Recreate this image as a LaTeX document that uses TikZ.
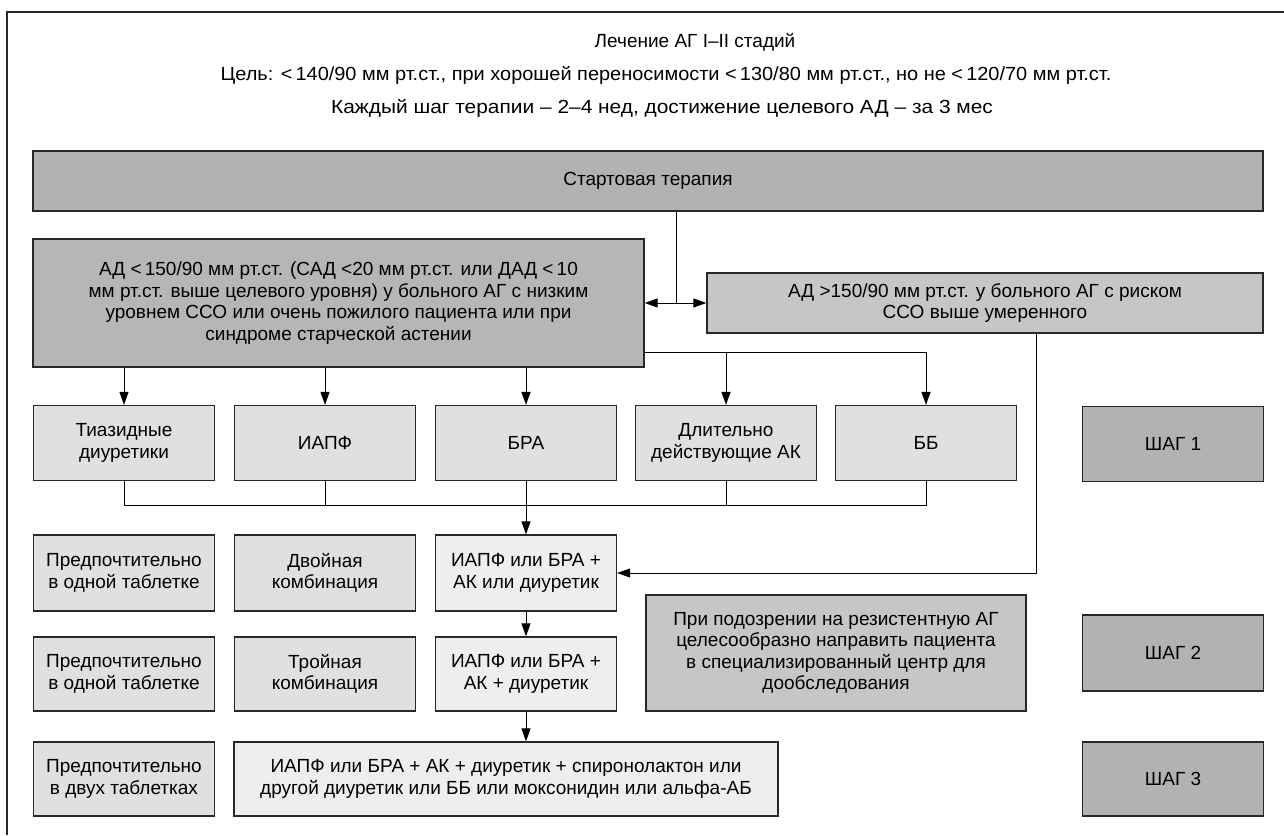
\documentclass[tikz,border=0pt]{standalone}
\usepackage{fontspec}
\setmainfont{Liberation Sans}
\newfontfamily\tfB[FakeStretch=1.05]{Liberation Sans}
\newfontfamily\tfC[FakeStretch=1.10]{Liberation Sans}
\usetikzlibrary{arrows.meta}
\definecolor{gA}{RGB}{178,178,178}
\definecolor{gB}{RGB}{182,182,182}
\definecolor{gC}{RGB}{198,198,198}
\definecolor{gD}{RGB}{224,224,224}
\definecolor{gE}{RGB}{238,238,238}
\definecolor{edge}{RGB}{40,40,40}
\tikzset{
  box/.style={draw=edge, line width=1.3pt, align=center, inner sep=2pt,
    font=\fontsize{19}{21.5}\selectfont},
  stdbox/.style={box, fill=gD, minimum width=181pt, minimum height=75pt},
  litbox/.style={box, fill=gE, minimum width=181pt, minimum height=75pt},
  stepbox/.style={box, fill=gA, minimum width=181pt, minimum height=76pt},
  conn/.style={line width=1pt, black},
  arr/.style={conn, -{Triangle[length=13pt,width=9pt]}},
  darr/.style={conn, {Triangle[length=13pt,width=9pt]}-{Triangle[length=13pt,width=9pt]}},
  title/.style={font=\fontsize{19}{21}\selectfont, inner sep=0pt},
  frame/.style={line width=1.4pt, edge}
}
\begin{document}
\begin{tikzpicture}[x=1pt,y=-1pt]
\useasboundingbox (0,0) rectangle (1284,835);
\draw[frame] (7,835) -- (7,12) -- (1284,12);

\node[title] (t1) at (695,42) {Лечение АГ I–II стадий};
\node[title] (t2) at (666,75) {\tfB Цель: <\,140/90 мм рт.ст., при хорошей переносимости <\,130/80 мм рт.ст., но не <\,120/70 мм рт.ст.};
\node[title] (t3) at (662,108) {\tfC Каждый шаг терапии – 2–4 нед, достижение целевого АД – за 3 мес};

\node[box, fill=gA, minimum width=1230pt, minimum height=60pt] (start) at (648,181) {Стартовая терапия};

\node[box, fill=gB, minimum width=611pt, minimum height=128pt] (left) at (338.5,303)
  {АД <\,150/90 мм рт.ст. (САД <20 мм рт.ст. или ДАД <\,10\\
   мм рт.ст. выше целевого уровня) у больного АГ с низким\\
   уровнем ССО или очень пожилого пациента или при\\
   синдроме старческой астении};
\node[box, fill=gC, minimum width=556pt, minimum height=60pt] (right) at (985,303)
  {АД >150/90 мм рт.ст. у больного АГ с риском\\ ССО выше умеренного};

\node[stdbox] (a1) at (124,443) {Тиазидные\\ диуретики};
\node[stdbox] (a2) at (325,443) {ИАПФ};
\node[stdbox] (a3) at (526,443) {БРА};
\node[stdbox] (a4) at (726,443) {Длительно\\ действующие АК};
\node[stdbox] (a5) at (926,443) {ББ};
\node[stepbox, minimum height=75pt] (s1) at (1173,444) {ШАГ 1};

\node[stdbox, minimum height=76pt] (b1) at (124,573) {Предпочтительно\\ в одной таблетке};
\node[stdbox, minimum height=76pt] (b2) at (325,573) {Двойная\\ комбинация};
\node[litbox, minimum height=76pt] (b3) at (526,573) {ИАПФ или БРА +\\ АК или диуретик};

\node[box, fill=gC, minimum width=380pt, minimum height=116pt] (res) at (836,653)
  {При подозрении на резистентную АГ\\ целесообразно направить пациента\\ в специализированный центр для\\ дообследования};
\node[stepbox] (s2) at (1173,653) {ШАГ 2};

\node[stdbox, minimum height=74pt] (c1) at (124,674) {Предпочтительно\\ в одной таблетке};
\node[stdbox, minimum height=74pt] (c2) at (325,674) {Тройная\\ комбинация};
\node[litbox, minimum height=74pt] (c3) at (526,674) {ИАПФ или БРА +\\ АК + диуретик};

\node[stdbox, minimum height=74pt] (d1) at (124,779) {Предпочтительно\\ в двух таблетках};
\node[box, fill=gE, minimum width=544pt, minimum height=74pt] (d2) at (506,779)
  {ИАПФ или БРА + АК + диуретик + спиронолактон или\\ другой диуретик или ББ или моксонидин или альфа-АБ};
\node[stepbox, minimum height=74pt] (s3) at (1173,779) {ШАГ 3};

% start -> split
\coordinate (j) at (676,303);
\draw[conn] (start.south -| j) -- (j);
\draw[darr] (left.east) -- (right.west);

% left box -> row 1
\draw[arr] (left.south -| a1.north) -- (a1.north);
\draw[arr] (left.south -| a2.north) -- (a2.north);
\draw[arr] (left.south -| a3.north) -- (a3.north);
\coordinate (k) at (0,352);
\draw[conn] (left.east |- k) -- (a5.north |- k);
\draw[arr] (a4.north |- k) -- (a4.north);
\draw[arr] (a5.north |- k) -- (a5.north);

% right box -> row 2
\coordinate (m) at (1036,573);
\draw[arr] (right.south -| m) -- (m) -- (b3.east);

% row 1 -> row 2
\coordinate (h) at (0,505);
\draw[conn] (a1.south) -- (a1.south |- h) -- (a5.south |- h) -- (a5.south);
\draw[conn] (a2.south) -- (a2.south |- h);
\draw[conn] (a4.south) -- (a4.south |- h);
\draw[arr] (a3.south) -- (b3.north);
\draw[arr] (b3.south) -- (c3.north);
\draw[arr] (c3.south) -- (c3.south |- d2.north);
\end{tikzpicture}
\end{document}
